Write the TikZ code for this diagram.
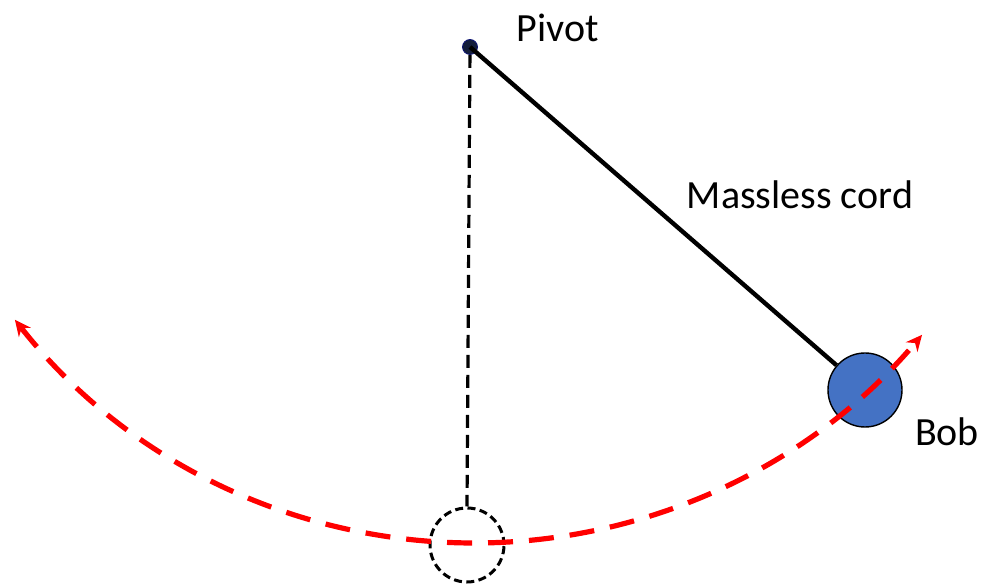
\documentclass[tikz,border=0pt]{standalone}
\usepackage{fontspec}
\setmainfont{Carlito}
\usetikzlibrary{arrows.meta,calc,positioning}
\definecolor{bobblue}{RGB}{68,114,196}
\definecolor{pivotnavy}{RGB}{20,30,60}

\begin{document}
\begin{tikzpicture}[
  x=0.5pt,y=0.5pt,
  every node/.style={font=\fontsize{20}{22}\selectfont},
  mass/.style={circle,draw,line width=.7pt,fill=bobblue,minimum size=37pt,inner sep=0pt},
  ghost/.style={circle,draw,dashed,line width=1.5pt,dash pattern=on 4pt off 2.2pt,
    minimum size=37pt,inner sep=0pt},
  cord/.style={line width=2.2pt},
  swing/.style={red,line width=2.6pt,dash pattern=on 12.5pt off 8pt,
    {Stealth[length=8pt,width=7.5pt]}-{Stealth[length=8pt,width=7.5pt]}}]
  \path[use as bounding box] (0,0) rectangle (981,584);

  % Pendulum: pivot, cord and bob.
  \node[circle,fill=pivotnavy,draw=pivotnavy!70!blue,minimum size=7.5pt,inner sep=0pt]
    (pivot) at (470,537) {};
  \node (pivotlbl) at (558,556) {Pivot};
  \node[mass] (bob) at (865,194) {};
  \node (boblbl) at (947,152) {Bob};
  \draw[cord] (pivot.center) -- (bob);
  \node (cordlbl) at (800,389) {Massless cord};

  % Rest position.
  \node[ghost] (rest) at (467,39) {};
  \draw[line width=1.6pt,dash pattern=on 6.5pt off 3.5pt] (pivot) -- (rest.north);

  % Swing of the bob.
  \coordinate (swingc) at (474.6,626);
  \draw[swing] ($(swingc)+(218.2:585)$) arc[start angle=218.2,end angle=319.9,radius=585];
\end{tikzpicture}
\end{document}
